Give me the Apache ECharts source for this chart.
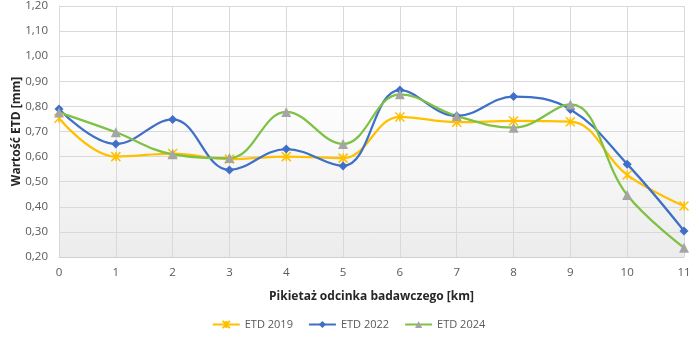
<!DOCTYPE html>
<html><head><meta charset="utf-8">
<script src="https://cdn.jsdelivr.net/npm/echarts@6/dist/echarts.min.js"></script>
<style>html,body{margin:0;padding:0;background:#fff}#c{width:697px;height:341px}</style>
</head><body><div id="c"></div>
<script>
const categories = ['0','1','2','3','4','5','6','7','8','9','10','11'];
const etd2019 = [0.753,0.600,0.612,0.590,0.600,0.594,0.758,0.737,0.742,0.739,0.527,0.403];
const etd2022 = [0.790,0.650,0.748,0.547,0.630,0.563,0.865,0.762,0.839,0.788,0.570,0.304];
const etd2024 = [0.776,0.697,0.609,0.594,0.778,0.650,0.848,0.762,0.715,0.808,0.447,0.237];
const seriesNames = ['ETD 2019','ETD 2022','ETD 2024'];

const font = 'Open Sans, Noto Sans, sans-serif';
const chart = echarts.init(document.getElementById('c'));
chart.setOption({
  animation:false,
  grid:{left:59,right:13,top:6,bottom:84,show:true,borderWidth:0,outerBoundsMode:'none',containLabel:false,
    backgroundColor:{type:'linear',x:0,y:0,x2:0,y2:1,colorStops:[{offset:0,color:'#ffffff'},{offset:0.35,color:'#ffffff'},{offset:1,color:'#ececec'}]}},
  legend:{bottom:6,left:'center',itemWidth:27,itemHeight:9,itemGap:15,
    textStyle:{fontFamily:font,fontSize:11,color:'#595959'},
    data:seriesNames},
  xAxis:{type:'category',data:categories,boundaryGap:false,
    name:'Pikietaż odcinka badawczego [km]',nameLocation:'middle',nameGap:34,nameMoveOverlap:false,
    nameTextStyle:{fontFamily:font,fontWeight:'bold',fontSize:12,color:'#262626'},
    axisLine:{lineStyle:{color:'#d0d0d0'}},axisTick:{show:false},
    axisLabel:{fontFamily:font,fontSize:11.5,color:'#595959',margin:10},
    splitLine:{show:true,lineStyle:{color:'#d9d9d9'}}},
  yAxis:{type:'value',min:0.2,max:1.2,interval:0.1,
    name:'Wartość ETD [mm]',nameLocation:'middle',nameGap:36,nameMoveOverlap:false,
    nameTextStyle:{fontFamily:font,fontWeight:'bold',fontSize:12,color:'#262626'},
    axisLine:{show:true,lineStyle:{color:'#d9d9d9'}},axisTick:{show:false},
    axisLabel:{fontFamily:font,fontSize:11.5,color:'#595959',margin:11,
      formatter:v=>v.toFixed(2).replace('.',',')},
    splitLine:{show:true,lineStyle:{color:'#d9d9d9'}}},
  series:[
    {name:seriesNames[0],type:'line',data:etd2019,smooth:0.4,
      symbol:'path://M0,0L10,10M10,0L0,10M5,0L5,10',symbolSize:9,
      lineStyle:{color:'#FFC000',width:2.25},
      itemStyle:{color:'#FFC000',borderColor:'#FFC000',borderWidth:1.5}},
    {name:seriesNames[1],type:'line',data:etd2022,smooth:0.4,
      symbol:'diamond',symbolSize:9,
      lineStyle:{color:'#3F6FC6',width:2.25},
      itemStyle:{color:'#3F6FC6'}},
    {name:seriesNames[2],type:'line',data:etd2024,smooth:0.4,
      symbol:'triangle',symbolSize:10,
      lineStyle:{color:'#7EC144',width:2.25},
      itemStyle:{color:'#A5A5A5'}}
  ]
});
</script></body></html>
